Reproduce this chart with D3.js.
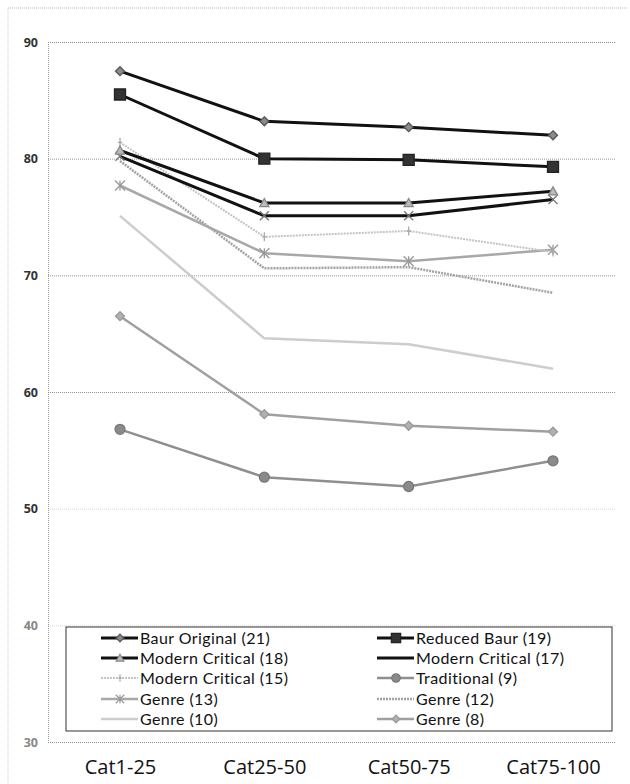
<!DOCTYPE html>
<html><head><meta charset="utf-8">
<script src="https://cdn.jsdelivr.net/npm/d3@7"></script>
<style>body{margin:0;background:#fff}svg{display:block}</style>
</head><body>
<svg id="c" width="630" height="784"></svg>
<script>
const categories = ["Cat1-25", "Cat25-50", "Cat50-75", "Cat75-100"];
const yTicks = [30, 40, 50, 60, 70, 80, 90];
const seriesNames = ["Baur Original (21)", "Reduced Baur (19)", "Modern Critical (18)", "Modern Critical (17)",
  "Modern Critical (15)", "Traditional (9)", "Genre (13)", "Genre (12)", "Genre (10)", "Genre (8)"];
const baurOriginal = [87.5, 83.2, 82.7, 82.0];
const reducedBaur = [85.5, 80.0, 79.9, 79.3];
const modernCritical18 = [80.7, 76.2, 76.2, 77.2];
const modernCritical17 = [80.2, 75.1, 75.1, 76.5];
const modernCritical15 = [81.4, 73.3, 73.8, 72.0];
const traditional9 = [56.8, 52.7, 51.9, 54.1];
const genre13 = [77.7, 71.9, 71.2, 72.2];
const genre12 = [79.8, 70.6, 70.7, 68.5];
const genre10 = [75.1, 64.6, 64.1, 62.0];
const genre8 = [66.5, 58.1, 57.1, 56.6];
const seriesValues = [baurOriginal, reducedBaur, modernCritical18, modernCritical17, modernCritical15,
  traditional9, genre13, genre12, genre10, genre8];

// styles
const styles = [
  {stroke:"#111", w:3, marker:"diamond", mfill:"#8a8a8a", mstroke:"#555", ms:9},
  {stroke:"#111", w:3, marker:"square", mfill:"#333", mstroke:"#222", ms:11},
  {stroke:"#111", w:3, marker:"triangle", mfill:"#bbb", mstroke:"#888", ms:9},
  {stroke:"#111", w:3, marker:"x", mfill:"none", mstroke:"#777", ms:9, legendMarker:false},
  {stroke:"#c4c4c4", w:2, dash:"2,1", marker:"plus", mfill:"none", mstroke:"#aaa", ms:9},
  {stroke:"#8f8f8f", w:2.5, marker:"circle", mfill:"#8a8a8a", mstroke:"#777", ms:10},
  {stroke:"#a8a8a8", w:2.5, marker:"star", mfill:"none", mstroke:"#999", ms:10},
  {stroke:"#a3a3a3", w:2.5, dash:"2,1", marker:null},
  {stroke:"#cdcdcd", w:2.5, marker:null},
  {stroke:"#a0a0a0", w:2.5, marker:"diamond", mfill:"#b0b0b0", mstroke:"#999", ms:9}
];

const svg = d3.select("#c");
const x = d3.scalePoint().domain(categories).range([120, 553]);
const y = d3.scaleLinear().domain([30, 90]).range([742, 42]);

// scan border
svg.append("line").attr("x1",8).attr("x2",628).attr("y1",8).attr("y2",8)
  .attr("stroke","#bbb").attr("stroke-dasharray","1,1");
svg.append("line").attr("x1",8).attr("x2",8).attr("y1",8).attr("y2",784)
  .attr("stroke","#ccc").attr("stroke-dasharray","1,1");

// gridlines
const yAxis = d3.axisLeft(y).tickValues(yTicks).tickSize(-567).tickFormat(d3.format("d"));
const gAxis = svg.append("g").attr("transform","translate(48,0)").call(yAxis);
gAxis.select(".domain").attr("stroke","#999").attr("stroke-dasharray","1,1");
gAxis.selectAll(".tick line").attr("stroke","#888").attr("stroke-dasharray","1,1").attr("stroke-width",1)
  .attr("stroke-opacity", d => (d === 50 || d === 40) ? 0.35 : 0.9);
gAxis.selectAll(".tick text").attr("x",-10).attr("font-family","Open Sans, sans-serif")
  .attr("font-size",12.5).attr("font-weight","bold").attr("fill", d => d===30||d===40 ? "#888" : "#333");

// x labels
svg.append("g").attr("transform","translate(0,742)")
  .call(d3.axisBottom(x).tickSize(0).tickPadding(18))
  .call(g => g.select(".domain").remove())
  .selectAll("text").attr("font-family","Open Sans, sans-serif").attr("font-size",20).attr("fill","#111");

function markerPath(type, s) {
  const h = s/2;
  switch(type) {
    case "diamond": return `M0,${-h}L${h},0L0,${h}L${-h},0Z`;
    case "square": return `M${-h},${-h}H${h}V${h}H${-h}Z`;
    case "triangle": return `M0,${-h}L${h},${h*0.8}L${-h},${h*0.8}Z`;
    case "x": return `M${-h},${-h}L${h},${h}M${h},${-h}L${-h},${h}`;
    case "plus": return `M0,${-h}V${h}M${-h*0.5},0H${h*0.5}`;
    case "star": return `M${-h},${-h}L${h},${h}M${h},${-h}L${-h},${h}M0,${-h}V${h}`;
    case "circle": return d3.symbol(d3.symbolCircle, s*s*0.78)();
  }
  return "";
}

const line = d3.line().x((d,i) => x(categories[i])).y(d => y(d));
const order = [8,7,6,4,9,5,3,2,1,0];
order.forEach(si => {
  const st = styles[si];
  const vals = seriesValues[si];
  svg.append("path").datum(vals).attr("d", line).attr("fill","none")
    .attr("stroke", st.stroke).attr("stroke-width", st.w)
    .attr("stroke-dasharray", st.dash || null);
  if (st.marker) {
    svg.append("g").selectAll("path").data(vals).join("path")
      .attr("transform", (d,i) => `translate(${x(categories[i])},${y(d)})`)
      .attr("d", markerPath(st.marker, st.ms))
      .attr("fill", st.mfill).attr("stroke", st.mstroke).attr("stroke-width", 1.3);
  }
});

// legend
const lg = svg.append("g");
lg.append("rect").attr("x",66).attr("y",627).attr("width",546).attr("height",104)
  .attr("fill","#fff").attr("stroke","#333").attr("stroke-width",1);
const rowY = [638, 658, 678, 699, 719];
seriesNames.forEach((name, i) => {
  const col = i % 2, row = Math.floor(i/2);
  const sx = col === 0 ? 101 : 377;
  const cy = rowY[row];
  const st = styles[i];
  lg.append("line").attr("x1", sx).attr("x2", sx+37).attr("y1", cy).attr("y2", cy)
    .attr("stroke", st.stroke).attr("stroke-width", st.w)
    .attr("stroke-dasharray", st.dash || null);
  if (st.marker && st.legendMarker !== false) {
    lg.append("path").attr("transform", `translate(${sx+19},${cy})`)
      .attr("d", markerPath(st.marker, st.ms*0.85))
      .attr("fill", st.mfill).attr("stroke", st.mstroke).attr("stroke-width", 1.2);
  }
  lg.append("text").attr("x", sx+39).attr("y", cy).attr("dy","0.35em")
    .attr("font-family","Lato, sans-serif").attr("font-size",16).attr("letter-spacing",0.4).attr("fill","#111")
    .text(name);
});
</script>
</body></html>
